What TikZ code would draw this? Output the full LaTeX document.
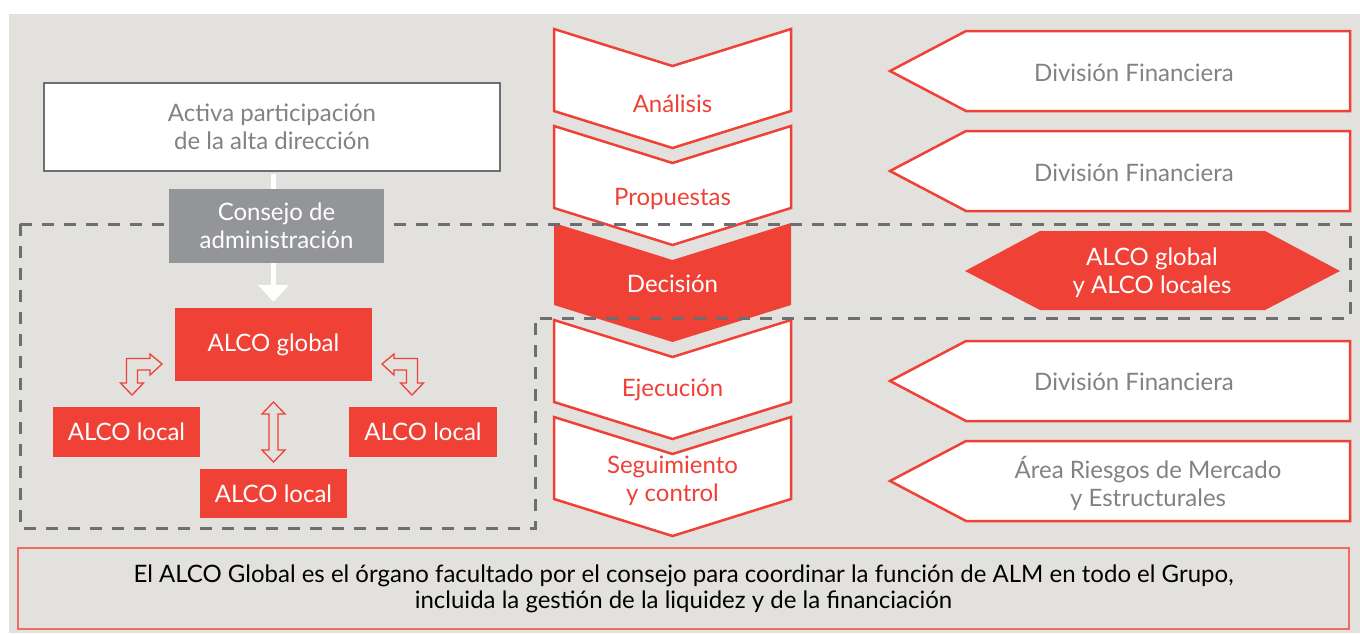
\documentclass[tikz,border=0pt]{standalone}
\usepackage{fontspec}
\setmainfont{Lato}
\usetikzlibrary{arrows.meta}
\definecolor{bgGrey}{HTML}{E3E1DE}
\definecolor{alcoRed}{HTML}{EF4136}
\definecolor{noteRed}{HTML}{F26B63}
\definecolor{councilGrey}{HTML}{939598}
\definecolor{lineGrey}{HTML}{6D6E71}
\definecolor{textGrey}{HTML}{808285}

\begin{document}
\begin{tikzpicture}[
    x=1pt, y=-1pt,
    lbl/.style={font=\fontsize{24}{28}\selectfont, align=center},
    box/.style={lbl, fill=#1, text=white, inner sep=0pt},
    chevron/.style={draw=alcoRed, fill=white, line width=2.5pt},
    tag/.style={draw=alcoRed, fill=white, line width=2.5pt},
    blockarrow/.style={draw=alcoRed, line width=1.3pt},
    dashline/.style={draw=lineGrey, line width=3pt, dash pattern=on 12pt off 10pt}
]
    \useasboundingbox (0,0) rectangle (1360,633);
    % Background
    \fill[bgGrey] (9,14) rectangle (1360,633);

    % Process chevrons
    \foreach \y in {29,126,320,417}
        \draw[chevron] (554,\y) -- (672.5,\y+37) -- (791,\y) -- (791,\y+82)
            -- (672.5,\y+119) -- (554,\y+82) -- cycle;
    \fill[alcoRed] (554,223) -- (672.5,260) -- (791,223) -- (791,305)
        -- (672.5,342) -- (554,305) -- cycle;
    \node[lbl, text=alcoRed] (analisis) at (672.5,104) {Análisis};
    \node[lbl, text=alcoRed] (propuestas) at (672.5,199) {Propuestas};
    \node[lbl, text=white] (decision) at (672.5,284) {Decisión};
    \node[lbl, text=alcoRed] (ejecucion) at (672.5,390) {Ejecución};
    \node[lbl, text=alcoRed] (seguimiento) at (672.5,481) {Seguimiento\\y control};

    % Responsible areas
    \foreach \y in {31,131,341,441}
        \draw[tag] (1350,\y) -- (1350,\y+80) -- (966,\y+80) -- (890,\y+40)
            -- (966,\y) -- cycle;
    \fill[alcoRed] (965,271) -- (1040,231) -- (1265,231) -- (1340,271)
        -- (1265,310) -- (1040,310) -- cycle;
    \node[lbl, text=textGrey] (finA) at (1134,73) {División Financiera};
    \node[lbl, text=textGrey] (finB) at (1134,173) {División Financiera};
    \node[lbl, text=white] (alcos) at (1152,273) {ALCO global\\y ALCO locales};
    \node[lbl, text=textGrey] (finC) at (1134,382) {División Financiera};
    \node[lbl, text=textGrey] (riesgos) at (1148,483) {Área Riesgos de Mercado\\y Estructurales};

    % Dashed frame
    \draw[dashline] (20,224) -- (1350,224) -- (1350,318) -- (535,318)
        -- (535,528) -- (20,528) -- cycle;

    % Governance boxes
    \node[box=white, draw=lineGrey, line width=2pt, text=textGrey,
        minimum width=456pt, minimum height=88pt] (activa) at (272,127)
        {Activa participación\\de la alta dirección};
    \node[box=alcoRed, minimum width=197pt, minimum height=73pt] (global) at (273.5,344.5) {ALCO global};
    \draw[white, line width=5pt, -{Triangle[width=30pt,length=17pt]},
        shorten <=1.5pt, shorten >=6pt] (activa.south -| global.north) -- (global.north);
    \node[box=councilGrey, minimum width=215pt, minimum height=74pt] (consejo) at (276.5,226)
        {Consejo de\\administración};
    \node[box=alcoRed, minimum width=147pt, minimum height=50pt] (localL) at (126.5,432) {ALCO local};
    \node[box=alcoRed, minimum width=148pt, minimum height=50pt] (localR) at (423,432) {ALCO local};
    \node[box=alcoRed, minimum width=147pt, minimum height=49pt] (localB) at (273.5,493.5) {ALCO local};

    % Two-way arrows
    \draw[blockarrow] (162,364) -- (150,375) -- (150,370) -- (137.5,370) -- (137.5,383)
        -- (143.5,383) -- (132,395) -- (120.5,383) -- (126.5,383) -- (126.5,358.5)
        -- (150,358.5) -- (150,354) -- cycle;
    \draw[blockarrow] (382,364) -- (394,375) -- (394,370) -- (406.5,370) -- (406.5,383)
        -- (400.5,383) -- (412,395) -- (423.5,383) -- (417.5,383) -- (417.5,358.5)
        -- (394,358.5) -- (394,354) -- cycle;
    \draw[blockarrow] (273.5,402) -- (285,414) -- (278,414) -- (278,450) -- (285,450)
        -- (273.5,462) -- (262,450) -- (269,450) -- (269,414) -- (262,414) -- cycle;

    % Note
    \node[lbl, draw=noteRed, line width=1.5pt, font=\fontsize{24}{26}\selectfont,
        minimum width=1331pt, minimum height=81pt] (note) at (683.5,588.5)
        {El ALCO Global es el órgano facultado por el consejo para coordinar la función de ALM en todo el Grupo,\\
        incluida la gestión de la liquidez y de la financiación};
\end{tikzpicture}
\end{document}
